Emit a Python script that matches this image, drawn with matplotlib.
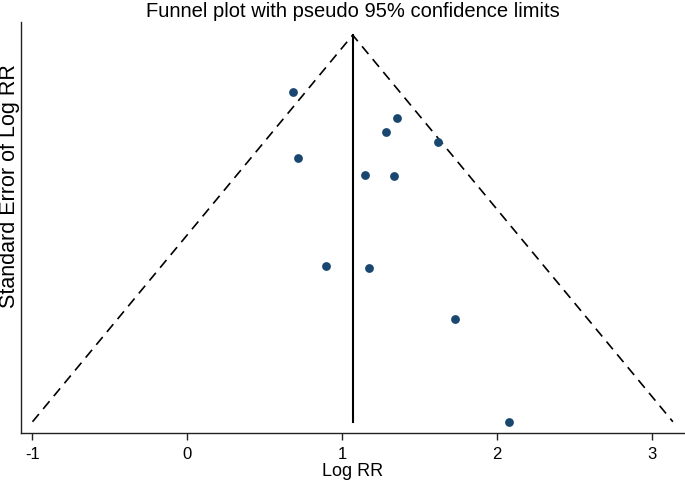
import matplotlib
matplotlib.use("Agg")
import matplotlib.pyplot as plt
import numpy as np

plt.rcParams['font.family'] = ['Liberation Sans', 'DejaVu Sans']

log_rr = [0.680, 1.351, 1.280, 1.619, 0.714, 1.145, 1.335, 0.895, 1.172, 1.729, 2.074]
se_log_rr = [0.154, 0.226, 0.265, 0.292, 0.335, 0.381, 0.384, 0.629, 0.636, 0.775, 1.054]
pooled = 1.067
z = 1.96
x_ticks = [-1, 0, 1, 2, 3]

fig = plt.figure(figsize=(6.85, 4.83), dpi=100)
ax = fig.add_axes([0.0307, 0.104, 0.9693, 0.850])

se_max = max(se_log_rr)
ax.plot([pooled - z * se_max, pooled, pooled + z * se_max], [se_max, 0, se_max],
        color='black', lw=1.2, dashes=(6, 4))
ax.plot([pooled, pooled], [0, se_max], color='black', lw=1.5)
ax.scatter(log_rr, se_log_rr, s=40, color='#1a476f', zorder=3, linewidths=0)

ax.set_xlim(-1.073, 3.211)
ax.set_ylim(1.084, -0.035)
ax.set_xticks(x_ticks)
ax.set_xticklabels([str(t) for t in x_ticks])
ax.set_yticks([])
ax.spines['top'].set_visible(False)
ax.spines['right'].set_visible(False)
for s in ['left', 'bottom']:
    ax.spines[s].set_linewidth(1.0)
    ax.spines[s].set_color('#222222')
ax.tick_params(axis='x', length=5, width=1.0, labelsize=12, pad=5, color='#222222')
ax.set_xlabel('Log RR', fontsize=13, labelpad=1)
ax.set_ylabel('Standard Error of Log RR', fontsize=15.5)
ax.yaxis.set_label_coords(-0.002, 0.6)
ax.set_title('Funnel plot with pseudo 95% confidence limits', fontsize=14.5, pad=4)

fig.savefig('out.png', dpi=100)
